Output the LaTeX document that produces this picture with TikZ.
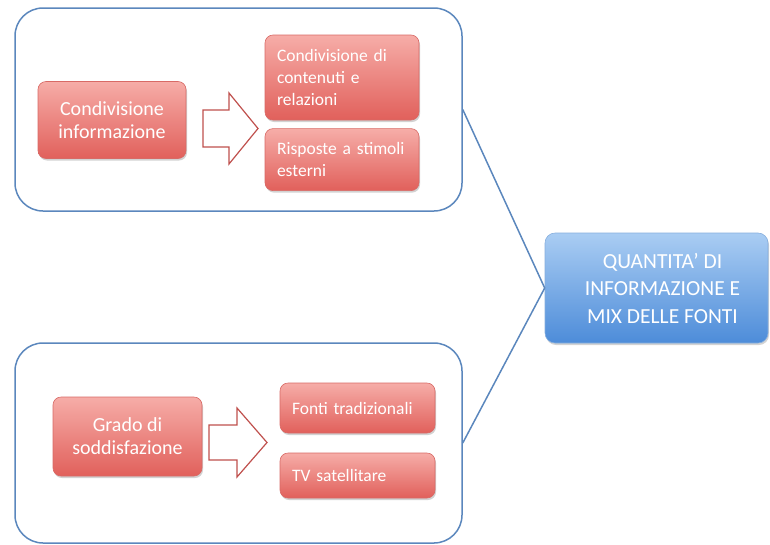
\documentclass[tikz,border=0pt]{standalone}
\usepackage{fontspec}
\setmainfont{Carlito}
\usepackage{tikz}
\usetikzlibrary{positioning,shadows,calc}
\definecolor{groupblue}{HTML}{5B87BD}
\definecolor{redtop}{HTML}{F6ADA8}
\definecolor{redbottom}{HTML}{E1605B}
\definecolor{redline}{HTML}{D86A66}
\definecolor{arrowred}{HTML}{C0504D}
\definecolor{bluetop}{HTML}{AACDF3}
\definecolor{bluebottom}{HTML}{4D8CD9}
\definecolor{blueline}{HTML}{86AEDD}
\tikzset{
  groupbox/.style={
    rounded corners=28pt,
    draw=groupblue,
    line width=1.5pt,
    fill=white
  },
  redbox/.style={
    rounded corners=8pt,
    draw=redline,
    line width=0.6pt,
    top color=redtop,
    bottom color=redbottom,
    drop shadow={opacity=0.35, shadow xshift=1pt, shadow yshift=-2pt},
    text=white,
    inner sep=0pt
  },
  mainbox/.style={
    redbox,
    align=center,
    font=\fontsize{20}{23}\selectfont
  },
  itembox/.style={
    redbox,
    align=left,
    text width=130pt,
    font=\fontsize{17.5}{22}\selectfont
  },
  resultbox/.style={
    rounded corners=10pt,
    draw=blueline,
    line width=0.6pt,
    top color=bluetop,
    bottom color=bluebottom,
    drop shadow={opacity=0.35, shadow xshift=1pt, shadow yshift=-2pt},
    text=white,
    align=center,
    inner sep=0pt,
    font=\fontsize{21.5}{27.5}\selectfont
  },
  hollowarrow/.style={
    draw=arrowred,
    line width=1.2pt,
    fill=white,
    line join=miter
  },
  link/.style={
    draw=groupblue,
    line width=1.5pt
  }
}
\begin{document}
\begin{tikzpicture}[x=1pt,y=-1pt]
\useasboundingbox (0,0) rectangle (770,544);

% groups
\node[groupbox, minimum width=447pt, minimum height=203pt] (topgroup) at (238.5,109.5) {};
\node[groupbox, minimum width=447pt, minimum height=200pt] (botgroup) at (238.5,443) {};

% result
\node[resultbox, minimum width=223pt, minimum height=110pt] (quantita) at (656.5,288)
  {\hspace*{12pt}QUANTITA' DI\\\hspace*{12pt}INFORMAZIONE E\\\hspace*{12pt}MIX DELLE FONTI};
\draw[link] (topgroup.east) -- (quantita.west);
\draw[link] (botgroup.east) -- (quantita.west);

% upper group
\node[mainbox, minimum width=148pt, minimum height=77pt] (info) at (112,120) {Condivisione\\informazione};
\node[itembox, minimum width=154pt, minimum height=85pt] (share) at (342,77.5)
  {Condivisione di\\contenuti e\\relazioni};
\node[itembox, minimum width=154pt, minimum height=62pt, below=8pt of share] (resp)
  {Risposte a stimoli\\esterni};
\draw[hollowarrow, shift={(203,128.5)}]
  (0,-18.5) -- (26,-18.5) -- (26,-35.5) -- (55,0) -- (26,35.5) -- (26,18.5) -- (0,18.5) -- cycle;

% lower group
\node[mainbox, minimum width=149pt, minimum height=79pt] (grado) at (127.5,436.5) {Grado di\\soddisfazione};
\node[itembox, minimum width=155pt, minimum height=50pt, text width=131pt] (fonti) at (357.5,408)
  {Fonti tradizionali};
\node[itembox, minimum width=155pt, minimum height=45pt, text width=131pt] (tv) at (357.5,475.5)
  {TV satellitare};
\draw[hollowarrow, shift={(209,442.5)}]
  (0,-17.5) -- (28,-17.5) -- (28,-34.5) -- (58,0) -- (28,34.5) -- (28,17.5) -- (0,17.5) -- cycle;
\end{tikzpicture}
\end{document}
